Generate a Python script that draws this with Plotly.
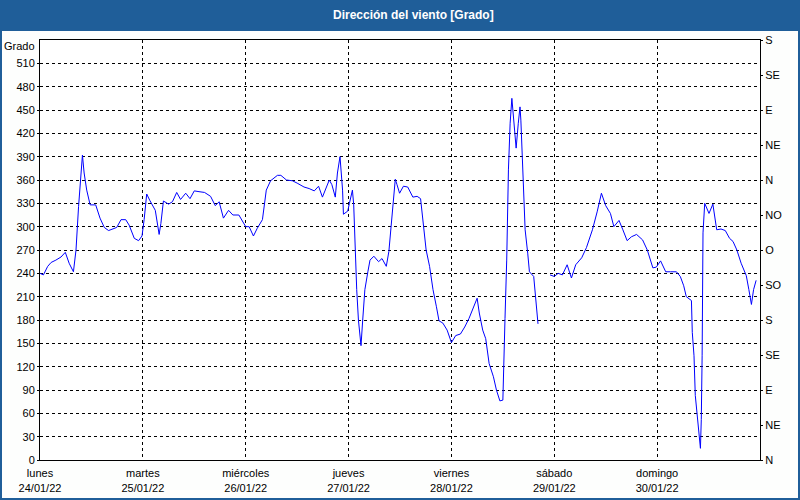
import plotly.graph_objects as go

# Hours since Monday 24/01/22 00:00 and wind direction (degrees)
hours = [0, 0.8, 1.8, 2.6, 3.7, 4.9, 5.9, 6.8, 7.8, 8.4, 9.0, 9.6, 9.9, 10.3, 10.9, 11.7,
         13.0, 14.0, 15.0, 16.0, 16.9, 17.9, 18.9, 20.0, 20.8, 22.0, 23.0, 23.8, 24.3, 24.9,
         25.6, 26.9, 27.8, 28.2, 28.8, 30.0, 30.9, 31.9, 32.8, 34.0, 35.0, 36.0, 37.1, 38.4,
         39.8, 40.9, 41.8, 42.8, 44.0, 45.0, 46.4, 48.0, 48.8, 49.8, 50.7, 51.9, 52.8, 53.8,
         55.4, 56.2, 57.5, 58.9, 60.0, 61.6, 62.8, 64.0, 65.0, 65.9,
         67.5, 68.1, 68.9, 69.4, 70.0, 70.6, 70.8, 71.8, 72.2, 72.9, 73.2, 73.6, 73.9, 74.3,
         74.9, 75.3, 75.8, 76.5, 77.0, 77.9, 79.0, 79.8, 80.8, 81.4, 81.9, 82.5, 82.9, 83.3,
         83.9, 84.8, 85.8, 87.0, 88.0, 88.8, 89.4, 90.1, 90.9, 91.7, 92.5, 93.1, 94.0, 95.0,
         96.0, 97.0, 98.1, 99.1, 100.1, 101.1, 102.0, 102.5, 103.3, 104.0, 104.8, 105.8,
         106.5, 107.3, 108.0, 108.5, 108.9, 109.3, 109.7, 110.1, 110.7, 111.1, 111.6, 112.0,
         112.2, 112.7, 113.2, 113.8, 114.2, 115.2, 115.8, 116.2, 117.5,
         119.0, 120.0, 120.9, 121.9, 123.0, 124.0, 125.0, 126.4, 127.5, 128.9, 130.0, 131.0,
         132.0, 133.1, 133.9, 135.1, 136.0, 137.0, 138.0, 139.2, 140.6, 141.7, 143.0, 143.8,
         144.8, 146.0, 147.1, 148.5, 149.4, 150.2, 150.8, 152.0, 152.2, 152.6, 152.9, 153.3,
         153.7, 154.1, 154.3, 154.5, 154.7, 155.1, 156.1, 157.0, 157.9, 158.9, 159.9, 160.9,
         161.7, 162.6, 163.6, 164.8, 165.4, 166.0, 166.5, 167.1]

direction = [240, 238, 249, 254, 257, 261, 267, 253, 242, 270, 326, 369, 392, 369, 347, 328,
             328, 311, 299, 295, 297, 299, 309, 309, 302, 285, 282, 288, 309, 342,
             334, 321, 290, 304, 333, 329, 332, 344, 335, 343, 336, 346, 345, 344,
             339, 327, 332, 311, 321, 315, 315, 300, 300, 288, 298, 309, 347, 359,
             366, 366, 360, 359, 356, 351, 349, 346, 352, 338,
             360, 354, 338, 369, 390, 347, 316, 320, 330, 347, 328, 253, 219, 180,
             147, 180, 219, 242, 257, 262, 255, 259, 249, 268, 300, 330, 361, 354,
             343, 352, 351, 338, 339, 336, 304, 270, 249, 219, 197, 179, 176, 167,
             151, 160, 162, 171, 182, 197, 208, 189, 167, 156, 124, 107,
             90, 76, 77, 182, 257, 373, 433, 465, 424, 401, 433, 454,
             437, 364, 296, 266, 242, 236, 197, 175, None,
             238, 236, 240, 238, 251, 234, 251, 260, 273, 296, 319, 343,
             327, 317, 300, 308, 296, 282, 287, 290, 283, 270, 247, 248,
             256, 242, 242, 242, 236, 224, 210, 205, 164, 134, 83, 62,
             41, 15, 52, 134, 292, 330, 317, 329, 296, 297, 295, 285,
             281, 270, 253, 237, 219, 200, 219, 231]

day_hours = [0, 24, 48, 72, 96, 120, 144]
day_labels = ["lunes<br>24/01/22", "martes<br>25/01/22", "miércoles<br>26/01/22",
              "jueves<br>27/01/22", "viernes<br>28/01/22", "sábado<br>29/01/22",
              "domingo<br>30/01/22"]

left_ticks = list(range(0, 540, 30))
right_ticks = list(range(0, 541, 45))
right_labels = ["N", "NE", "E", "SE", "S", "SO", "O", "NO", "N", "NE", "E", "SE", "S"]

title_text = "Dirección del viento [Grado]"
unit_label = "Grado"

W, H = 800, 500
L, R, T, B = 40, 40, 40, 40
PW, PH = W - L - R, H - T - B


def px_x(xp):
    return (xp - L) / PW


def px_y(yp):
    return (H - B - yp) / PH


BLUE = "#1f5e99"
FONT = "Liberation Sans"

fig = go.Figure()
fig.add_trace(go.Scatter(x=hours, y=direction, mode="lines",
                         line=dict(color="#0000ff", width=1),
                         connectgaps=False, showlegend=False, hoverinfo="skip"))
fig.add_trace(go.Scatter(x=[None], y=[None], yaxis="y2", showlegend=False,
                         hoverinfo="skip"))

fig.update_layout(
    width=W, height=H,
    margin=dict(l=L, r=R, t=T, b=B, autoexpand=False),
    paper_bgcolor="#fdfefd",
    plot_bgcolor="#ffffff",
    font=dict(family=FONT, size=11, color="#000000"),
    xaxis=dict(range=[0, 168], tickmode="array", tickvals=day_hours, ticktext=day_labels,
               showgrid=True, gridcolor="#000000", gridwidth=1, griddash="3px,3px",
               showline=True, linecolor="#000000", linewidth=1, mirror=True,
               ticks="outside", ticklen=3, tickcolor="rgba(0,0,0,0)",
               zeroline=False, fixedrange=True, automargin=False),
    yaxis=dict(range=[0, 540], tickmode="array", tickvals=left_ticks,
               showgrid=True, gridcolor="#000000", gridwidth=1, griddash="3px,3px",
               showline=True, linecolor="#000000", linewidth=1,
               ticks="outside", ticklen=2, tickcolor="#000000",
               zeroline=False, fixedrange=True, automargin=False),
    yaxis2=dict(range=[0, 540], overlaying="y", side="right", tickmode="array",
                tickvals=right_ticks, ticktext=right_labels, showgrid=False,
                showline=True, linecolor="#000000", linewidth=1,
                ticks="outside", ticklen=2, tickcolor="#000000",
                zeroline=False, fixedrange=True, automargin=False),
    shapes=[
        dict(type="rect", xref="paper", yref="paper",
             x0=px_x(0), x1=px_x(W), y0=px_y(0), y1=px_y(31),
             fillcolor=BLUE, line=dict(width=0), layer="above"),
        dict(type="rect", xref="paper", yref="paper",
             x0=px_x(1), x1=px_x(W - 1), y0=px_y(1), y1=px_y(H - 1),
             fillcolor="rgba(0,0,0,0)", line=dict(color=BLUE, width=2), layer="above"),
    ],
    annotations=[
        dict(text="<b>" + title_text + "</b>", xref="paper", yref="paper",
             x=px_x(413), y=px_y(15), xanchor="center", yanchor="middle",
             showarrow=False, font=dict(family=FONT, size=12, color="#ffffff")),
        dict(text=unit_label, xref="paper", yref="paper",
             x=px_x(37), y=px_y(46), xanchor="right", yanchor="middle",
             showarrow=False, font=dict(family=FONT, size=11, color="#000000")),
    ],
)

fig.write_html("out.html", config={"displayModeBar": False},
               post_script="document.body.style.margin='0px';"
                           "document.body.style.overflow='hidden';")
